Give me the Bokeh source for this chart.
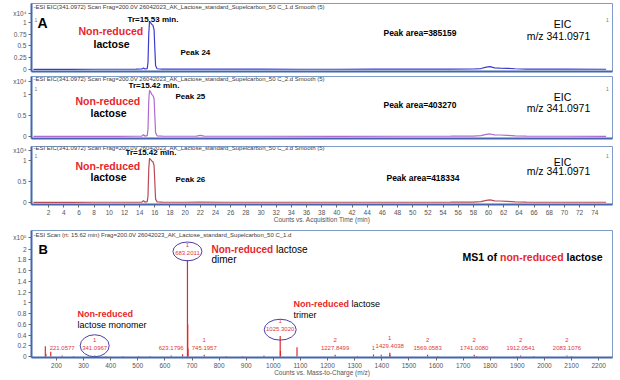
import numpy as np
from bokeh.plotting import figure
from bokeh.layouts import column
from bokeh.models import Label, FixedTicker, Range1d, ColumnDataSource
from bokeh.embed import file_html
from bokeh.resources import INLINE
from bokeh.core.properties import value

FONT = "Liberation Sans"

# ---------------- EIC data (x10^4 counts vs min) ----------------
time_1 = [0.0, 2.0, 5.0, 8.0, 11.0, 13.5, 14.3, 14.5, 14.7, 15.0, 15.1, 15.2, 15.3, 15.45, 15.6,
          15.75, 15.9, 16.0, 16.1, 16.3, 17.0, 20.0, 22.0, 25.0, 30.0, 35.0, 40.0, 45.0, 50.0,
          55.0, 58.0, 59.0, 59.7, 60.2, 60.8, 61.5, 62.5, 63.5, 65.0, 70.0, 75.5]
eic_1 = [0.004, 0.004, 0.004, 0.005, 0.005, 0.006, 0.01, 0.03, 0.01, 0.02, 0.15, 0.75, 1.02, 0.99, 0.96,
         0.94, 0.85, 0.45, 0.08, 0.015, 0.008, 0.006, 0.01, 0.006, 0.006, 0.005, 0.005, 0.006, 0.006,
         0.007, 0.01, 0.02, 0.05, 0.06, 0.035, 0.03, 0.025, 0.015, 0.008, 0.006, 0.005]

time_2 = [0.0, 2.0, 5.0, 8.0, 11.0, 13.5, 14.3, 14.5, 14.7, 15.0, 15.1, 15.2, 15.3, 15.45, 15.6,
          15.75, 15.9, 16.0, 16.1, 16.3, 17.0, 20.0, 21.5, 22.0, 22.5, 25.0, 30.0, 40.0, 50.0,
          55.0, 58.0, 59.0, 59.7, 60.2, 60.8, 61.5, 62.5, 63.5, 65.0, 70.0, 75.5]
eic_2 = [0.004, 0.004, 0.004, 0.005, 0.005, 0.006, 0.01, 0.04, 0.01, 0.02, 0.18, 0.85, 1.1, 1.06, 1.0,
         0.98, 0.9, 0.5, 0.09, 0.015, 0.008, 0.006, 0.01, 0.025, 0.01, 0.006, 0.006, 0.005, 0.006,
         0.007, 0.01, 0.02, 0.05, 0.06, 0.04, 0.035, 0.025, 0.015, 0.008, 0.006, 0.005]

time_3 = [0.0, 2.0, 5.0, 8.0, 11.0, 13.5, 14.3, 14.5, 14.7, 15.0, 15.1, 15.2, 15.3, 15.45, 15.6,
          15.75, 15.9, 16.0, 16.1, 16.3, 17.0, 20.0, 22.0, 25.0, 30.0, 40.0, 50.0,
          55.0, 58.0, 59.0, 59.7, 60.2, 60.8, 61.5, 62.5, 63.5, 65.0, 70.0, 75.5]
eic_3 = [0.004, 0.004, 0.004, 0.005, 0.005, 0.006, 0.01, 0.04, 0.01, 0.02, 0.16, 0.8, 1.05, 1.02, 0.99,
         0.97, 0.88, 0.48, 0.08, 0.015, 0.008, 0.006, 0.012, 0.006, 0.006, 0.005, 0.006,
         0.007, 0.01, 0.02, 0.05, 0.06, 0.04, 0.035, 0.025, 0.015, 0.008, 0.006, 0.005]

# ---------------- MS1 spectrum (x10^5 counts vs m/z) ----------------
spec_mz = [159.0, 161.0, 179.0, 221.0577, 263.0, 341.0967, 383.1, 445.0, 503.2, 545.0, 623.1796,
           665.2, 683.2011, 684.2, 685.2, 745.1957, 827.0, 887.0, 965.3, 1025.3020, 1026.3,
           1087.3, 1227.8499, 1310.0, 1369.4, 1398.0, 1429.4038, 1430.4, 1569.0583, 1606.0,
           1741.0080, 1750.0, 1899.0, 1912.0541, 1960.0, 2083.1076, 2100.0]
spec_int = [0.19, 0.05, 0.09, 0.02, 0.01, 0.02, 0.01, 0.01, 0.01, 0.01, 0.02,
            0.04, 1.80, 0.60, 0.15, 0.03, 0.01, 0.01, 0.02, 0.38, 0.10,
            0.17, 0.03, 0.01, 0.035, 0.03, 0.07, 0.03, 0.03, 0.01,
            0.03, 0.01, 0.01, 0.02, 0.01, 0.02, 0.01]

label_mz = [221.0577, 341.0967, 623.1796, 683.2011, 745.1957, 1025.3020, 1227.8499, 1429.4038,
            1569.0583, 1741.0080, 1912.0541, 2083.1076]
label_int = [0.02, 0.02, 0.02, 1.80, 0.03, 0.38, 0.03, 0.07, 0.03, 0.03, 0.02, 0.02]
label_charge = ["", "1", "", "1", "1", "1", "2", "1", "2", "2", "2", "2"]

circled_mz = [341.0967, 683.2011, 1025.3020]
circled_y = [0.2, 1.96, 0.5]

x_ticks_a = list(range(2, 76, 2))
x_ticks_b = list(range(200, 2201, 100))
y_ticks_a1 = [0, 0.25, 0.5, 0.75, 1]
y_ticks_a23 = [0, 0.5, 1]
y_ticks_b = [0, 0.2, 0.4, 0.6, 0.8, 1, 1.2, 1.4, 1.6, 1.8, 2]

# ---------------- styles ----------------
W = 614
FRAME = "#7f9cc8"
AXIS = "#4466b0"
TICKC = "#555555"
RED = "#e8262b"
PEAKRED = "#e0383c"
TITLEC = "#3a3a3a"

XR_A = (-0.26, 76.34)
XR_B = (108, 2251)


def fmt(v):
    return "%g" % v


def base_fig(height, xr, yr, mb_top, mb_bottom, yticks, exp_val, exp_text):
    p = figure(width=W, height=height, x_range=Range1d(*xr), y_range=Range1d(*yr),
               output_backend="svg", toolbar_location=None,
               min_border_left=31, min_border_right=2,
               min_border_top=mb_top, min_border_bottom=mb_bottom)
    p.xgrid.visible = False
    p.ygrid.visible = False
    p.outline_line_color = FRAME
    p.outline_line_width = 1
    p.background_fill_color = "white"
    p.border_fill_color = "white"
    ya = p.yaxis[0]
    ya.ticker = FixedTicker(ticks=list(yticks) + [exp_val])
    overrides = {t: fmt(t) for t in yticks}
    overrides[exp_val] = exp_text
    ya.major_label_overrides = overrides
    ya.axis_line_color = AXIS
    ya.axis_line_width = 2
    ya.major_tick_line_color = "#666666"
    ya.major_tick_out = 3
    ya.major_tick_in = 0
    ya.minor_tick_line_color = None
    ya.major_label_text_font = FONT
    ya.major_label_text_font_size = "6.5px"
    ya.major_label_text_color = TICKC
    ya.major_label_standoff = 2
    xa = p.xaxis[0]
    xa.axis_line_color = AXIS
    xa.axis_line_width = 2
    xa.minor_tick_line_color = None
    return p


def style_x_hidden(p):
    xa = p.xaxis[0]
    xa.ticker = FixedTicker(ticks=[])
    xa.major_tick_out = 0
    xa.major_tick_in = 0
    xa.major_tick_line_color = None
    xa.major_label_standoff = 0


def style_x_shown(p, ticks, title):
    xa = p.xaxis[0]
    xa.ticker = FixedTicker(ticks=ticks)
    xa.major_label_overrides = {t: fmt(t) for t in ticks}
    xa.major_tick_out = 3
    xa.major_tick_in = 0
    xa.major_tick_line_color = "#666666"
    xa.major_label_text_font = FONT
    xa.major_label_text_font_size = "6.5px"
    xa.major_label_text_color = TICKC
    xa.major_label_standoff = 2
    xa.axis_label = title
    xa.axis_label_text_font = FONT
    xa.axis_label_text_font_size = "6.5px"
    xa.axis_label_text_font_style = "normal"
    xa.axis_label_text_color = TICKC
    xa.axis_label_standoff = -2


def put(p, fx, fy, xr, yr, text, size, color="black", bold=False, align="left"):
    p.add_layout(Label(x=fx(xr), y=fy(yr), text=text, text_font=FONT,
                       text_font_size=f"{size}px", text_color=color,
                       text_font_style="bold" if bold else "normal",
                       text_align=align, text_baseline="middle"))


# reference-pixel -> data helpers
def tA(x):
    return (x - 33) / 7.585


def vA(zero, ppu):
    return lambda y: (zero - y) / ppu


def mzB(x):
    return 200 + (x - 56) / 0.271


def iB(y):
    return (357 - y) / 54.0


TITLE_A = "-ESI EIC(341.0972) Scan Frag=200.0V 26042023_AK_Lactose_standard_Supelcarbon_50 C_{}.d  Smooth (5)"


def eic_panel(p, t, v, color, fy, idx, peak, area, tr, xs, ys):
    p.line(t, v, line_color=color, line_width=1.2)
    (y_title, y_one, y_tr, y_nr, y_lac, y_peak, y_area, y_eic, y_mz) = ys
    (x_tr, x_nr, x_lac, x_peak, x_area) = xs
    put(p, tA, fy, 33, y_title, TITLE_A.format(idx), 6, TITLEC)
    put(p, tA, fy, 34, y_one, "1", 5, "#777777")
    put(p, tA, fy, 607, y_one, "1", 5, "#777777", align="center")
    put(p, tA, fy, x_tr, y_tr, tr, 8, "black", True)
    put(p, tA, fy, x_nr, y_nr, "Non-reduced", 10.5, RED, True)
    put(p, tA, fy, x_lac, y_lac, "lactose", 10.5, "black", True)
    put(p, tA, fy, x_peak, y_peak, peak, 8, "black", True)
    put(p, tA, fy, x_area, y_area, area, 8.5, "black", True)
    put(p, tA, fy, 562, y_eic, "EIC", 10.5, "black", align="center")
    put(p, tA, fy, 558, y_mz, "m/z 341.0971", 10.5, "black", align="center")


# ---------------- panel A ----------------
fy1 = vA(69, 47.0)
f1 = base_fig(75, XR_A, (-0.043, 1.404), 3, 4, y_ticks_a1, fy1(13), "x10\u2074")
style_x_hidden(f1)
eic_panel(f1, time_1, eic_1, "#3c3ccc", fy1, 1, "Peak 24", "Peak area=385159", "Tr=15.53 min.",
          (127, 78, 93, 180, 383),
          (6.5, 20, 19, 31, 43.5, 52, 33, 24, 36))
put(f1, tA, fy1, 37, 23, "A", 14, "black", True)

fy2 = vA(136, 42.0)
f2 = base_fig(70, XR_A, (-0.048, 1.43), 1, 7, y_ticks_a23, fy2(81), "x10\u2074")
style_x_hidden(f2)
eic_panel(f2, time_2, eic_2, "#b06ad0", fy2, 2, "Peak 25", "Peak area=403270", "Tr=15.42 min.",
          (128, 75, 90, 175, 383),
          (78.5, 88, 85, 100, 112, 96, 104, 96, 107))

fy3 = vA(202, 42.0)
f3 = base_fig(80, XR_A, (-0.048, 1.333), 1, 21, y_ticks_a23, fy3(150), "x10\u2074")
style_x_shown(f3, x_ticks_a, "Counts vs. Acquisition Time (min)")
eic_panel(f3, time_3, eic_3, "#b84a55", fy3, 3, "Peak 26", "Peak area=418334", "Tr=15.42 min.",
          (125, 75, 90, 175, 386),
          (148, 156, 152, 166, 177, 179, 178, 162, 171))

# ---------------- panel B ----------------
fb = base_fig(153, XR_B, (-0.019, 2.35), 5, 20, y_ticks_b, iB(237), "x10\u2075")
style_x_shown(fb, x_ticks_b, "Counts vs. Mass-to-Charge (m/z)")

spec = ColumnDataSource(dict(mz=spec_mz, inten=spec_int, zero=[0] * len(spec_mz)))
fb.segment(x0="mz", y0="zero", x1="mz", y1="inten", source=spec, line_color="#e02a2a", line_width=1.2)

lab = ColumnDataSource(dict(mz=label_mz, inten=label_int,
                            txt=["%.4f" % m for m in label_mz], ch=label_charge))
fb.text(x="mz", y="inten", text="txt", source=lab, text_font=value(FONT), text_font_size="6px",
        text_color=PEAKRED, text_align="center", text_baseline="middle", y_offset=-7)
fb.text(x="mz", y="inten", text="ch", source=lab, text_font=value(FONT), text_font_size="6px",
        text_color=PEAKRED, text_align="center", text_baseline="middle", y_offset=-15)
fb.text(x=[1369.4], y=[0.035], text=["1"], text_font=value(FONT), text_font_size="6px",
        text_color=PEAKRED, text_align="center", text_baseline="middle", y_offset=-7)

fb.ellipse(x=circled_mz, y=circled_y, width=[107, 107, 118], height=[0.41, 0.35, 0.39],
           fill_color=None, line_color="#4b3ea8", line_width=1)

put(fb, mzB, iB, 33, 235, "-ESI Scan (rt: 15.62 min) Frag=200.0V 26042023_AK_Lactose_standard_Supelcarbon_50 C_1.d", 6, TITLEC)
put(fb, mzB, iB, 38, 249, "B", 13, "black", True)
# "MS1 of non-reduced lactose" (10.5px bold)
put(fb, mzB, iB, 462, 257, "MS1 of", 10.5, "black", True)
put(fb, mzB, iB, 462 + 3.556 * 10.5, 257, "non-reduced", 10.5, RED, True)
put(fb, mzB, iB, 462 + 3.556 * 10.5 + 6.334 * 10.5, 257, "lactose", 10.5, "black", True)
# dimer (10px)
put(fb, mzB, iB, 211, 249, "Non-reduced", 10, RED, True)
put(fb, mzB, iB, 211 + 6.445 * 10, 249, "lactose", 10, "black")
put(fb, mzB, iB, 211, 259, "dimer", 10, "black")
# trimer (9px)
put(fb, mzB, iB, 293, 304, "Non-reduced", 9, RED, True)
put(fb, mzB, iB, 293 + 6.445 * 9, 304, "lactose", 9, "black")
put(fb, mzB, iB, 293, 315, "trimer", 9, "black")
# monomer (9px)
put(fb, mzB, iB, 77, 314, "Non-reduced", 9, RED, True)
put(fb, mzB, iB, 77, 325, "lactose monomer", 9, "black")

layout = column(f1, f2, f3, fb)
open("out.html", "w").write(file_html(layout, INLINE))
